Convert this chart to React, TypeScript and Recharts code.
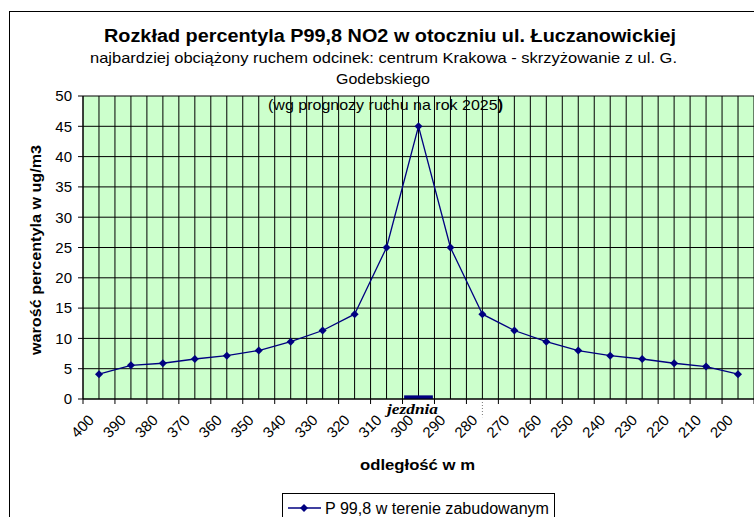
import React from "react";
import {
  LineChart, Line, XAxis, YAxis, CartesianGrid, ReferenceArea, ReferenceLine, Legend,
} from "recharts";

const distances = [400, 390, 380, 370, 360, 350, 340, 330, 320, 310, 300, 290, 280, 270, 260, 250, 240, 230, 220, 210, 200];
const values = [4.1, 5.55, 5.9, 6.6, 7.15, 8.0, 9.45, 11.3, 14.0, 25.0, 45.0, 25.0, 14.0, 11.3, 9.45, 8.0, 7.15, 6.6, 5.9, 5.35, 4.1];
const yTicks = [0, 5, 10, 15, 20, 25, 30, 35, 40, 45, 50];
const seriesName = "P 99,8 w terenie zabudowanym";
const roadFrom = 304.5;
const roadTo = 295.5;

const data = distances.map((d, i) => ({ dist: d, value: values[i] }));
// grid + tick marks every 5 m (category edges), labels on the 10s
const xTicks = [...distances.flatMap((d) => [d + 5, d]), distances[distances.length - 1] - 5];

const SANS = "'Liberation Sans', Arial, sans-serif";
const NAVY = "#000080";

function XTick(props: any) {
  const { x, y, payload } = props;
  const v = payload.value as number;
  if (v % 10 !== 0) {
    return <line x1={x} y1={y} x2={x} y2={y + 5} stroke="#000" />;
  }
  const ax = x - 4;
  const ay = y + 22;
  return (
    <text
      x={ax}
      y={ay}
      textAnchor="end"
      transform={`rotate(-45 ${ax} ${ay})`}
      fontFamily={SANS}
      fontSize={15}
      fill="#000"
    >
      {v}
    </text>
  );
}

function Diamond(props: any) {
  const { cx, cy } = props;
  if (cx == null || cy == null) return null;
  const r = 4;
  return <path d={`M${cx} ${cy - r}L${cx + r} ${cy}L${cx} ${cy + r}L${cx - r} ${cy}Z`} fill={NAVY} />;
}

function RoadLabel(props: any) {
  const { viewBox } = props;
  const cx = viewBox.x + viewBox.width / 2 - 6;
  return (
    <text
      x={cx}
      y={viewBox.y + viewBox.height + 15}
      textAnchor="middle"
      fontFamily="'Liberation Serif', 'Times New Roman', serif"
      fontStyle="italic"
      fontWeight="bold"
      fontSize={15}
      textLength={51}
      lengthAdjust="spacingAndGlyphs"
      fill="#000"
    >
      jezdnia
    </text>
  );
}

function LegendBox() {
  return (
    <div style={{ border: "1px solid #000", width: 273, height: 40, background: "#fff", boxSizing: "border-box" }}>
      <svg width={273} height={30} style={{ display: "block" }}>
        <line x1={5} y1={14} x2={38} y2={14} stroke={NAVY} strokeWidth={1.3} />
        <path d="M21 10L25 14L21 18L17 14Z" fill={NAVY} />
        <text x={42} y={20} fontFamily={SANS} fontSize={16} fill="#000" textLength={224} lengthAdjust="spacingAndGlyphs">
          {seriesName}
        </text>
      </svg>
    </div>
  );
}

export default function App() {
  return (
    <div style={{ position: "absolute", left: 0, top: 0, width: 754, height: 517, overflow: "hidden", background: "#fff" }}>
      <div style={{ position: "absolute", left: 9, top: 11, width: 800, height: 600, border: "1px solid #000" }} />
      <div style={{ position: "absolute", left: 0, top: 0 }}>
        <LineChart width={754} height={517} data={data} margin={{ top: 96, right: 0, bottom: 0, left: 0 }}>
          <CartesianGrid stroke="#000" strokeWidth={1} fill="#CCFFCC" fillOpacity={1} />
          <XAxis
            dataKey="dist"
            type="number"
            domain={[xTicks[xTicks.length - 1], xTicks[0]]}
            reversed
            ticks={xTicks}
            interval={0}
            tick={<XTick />}
            tickLine={false}
            tickSize={0}
            tickMargin={0}
            axisLine={{ stroke: "#000" }}
            height={118}
          />
          <YAxis
            domain={[0, 50]}
            ticks={yTicks}
            interval={0}
            width={83}
            tickSize={5}
            tickMargin={6}
            tickLine={{ stroke: "#000" }}
            axisLine={{ stroke: "#000" }}
            tick={{ fill: "#000", fontSize: 15, fontFamily: SANS }}
          />
          <ReferenceArea
            x1={roadFrom}
            x2={roadTo}
            y1={0}
            y2={0.6}
            fill={NAVY}
            fillOpacity={1}
            stroke="none"
            label={<RoadLabel />}
          />
          <ReferenceLine
            segment={[{ x: 280, y: 0 }, { x: 280, y: -3 }]}
            ifOverflow="visible"
            stroke="#777"
            strokeDasharray="1 2"
          />
          <Line
            type="linear"
            dataKey="value"
            name={seriesName}
            stroke={NAVY}
            strokeWidth={1.3}
            dot={<Diamond />}
            activeDot={false}
            isAnimationActive={false}
          />
          <Legend
            layout="vertical"
            verticalAlign="middle"
            align="center"
            content={<LegendBox />}
            wrapperStyle={{ left: 282, top: 493, width: 273, height: 40 }}
          />
        </LineChart>
      </div>
      <svg width={754} height={517} style={{ position: "absolute", left: 0, top: 0, pointerEvents: "none" }}>
        <text x={390} y={42} textAnchor="middle" fontFamily={SANS} fontWeight="bold" fontSize={18} textLength={572} lengthAdjust="spacingAndGlyphs">
          Rozkład percentyla P99,8 NO2 w otoczniu ul. Łuczanowickiej
        </text>
        <text x={383.5} y={63} textAnchor="middle" fontFamily={SANS} fontSize={15} textLength={587} lengthAdjust="spacingAndGlyphs">
          najbardziej obciążony ruchem odcinek: centrum Krakowa - skrzyżowanie z ul. G.
        </text>
        <text x={383} y={84} textAnchor="middle" fontFamily={SANS} fontSize={15} textLength={94} lengthAdjust="spacingAndGlyphs">
          Godebskiego
        </text>
        <text x={385.5} y={110} textAnchor="middle" fontFamily={SANS} fontSize={15} textLength={235} lengthAdjust="spacingAndGlyphs">
          (wg prognozy ruchu na rok 2025<tspan fontWeight="bold">)</tspan>
        </text>
        <text x={35} y={250} textAnchor="middle" dominantBaseline="central" transform="rotate(-90 35 250)" fontFamily={SANS} fontWeight="bold" fontSize={15} textLength={210} lengthAdjust="spacingAndGlyphs">
          warość percentyla w ug/m3
        </text>
        <text x={417.5} y={470} textAnchor="middle" fontFamily={SANS} fontWeight="bold" fontSize={15} textLength={115} lengthAdjust="spacingAndGlyphs">
          odległość w m
        </text>
      </svg>
    </div>
  );
}
